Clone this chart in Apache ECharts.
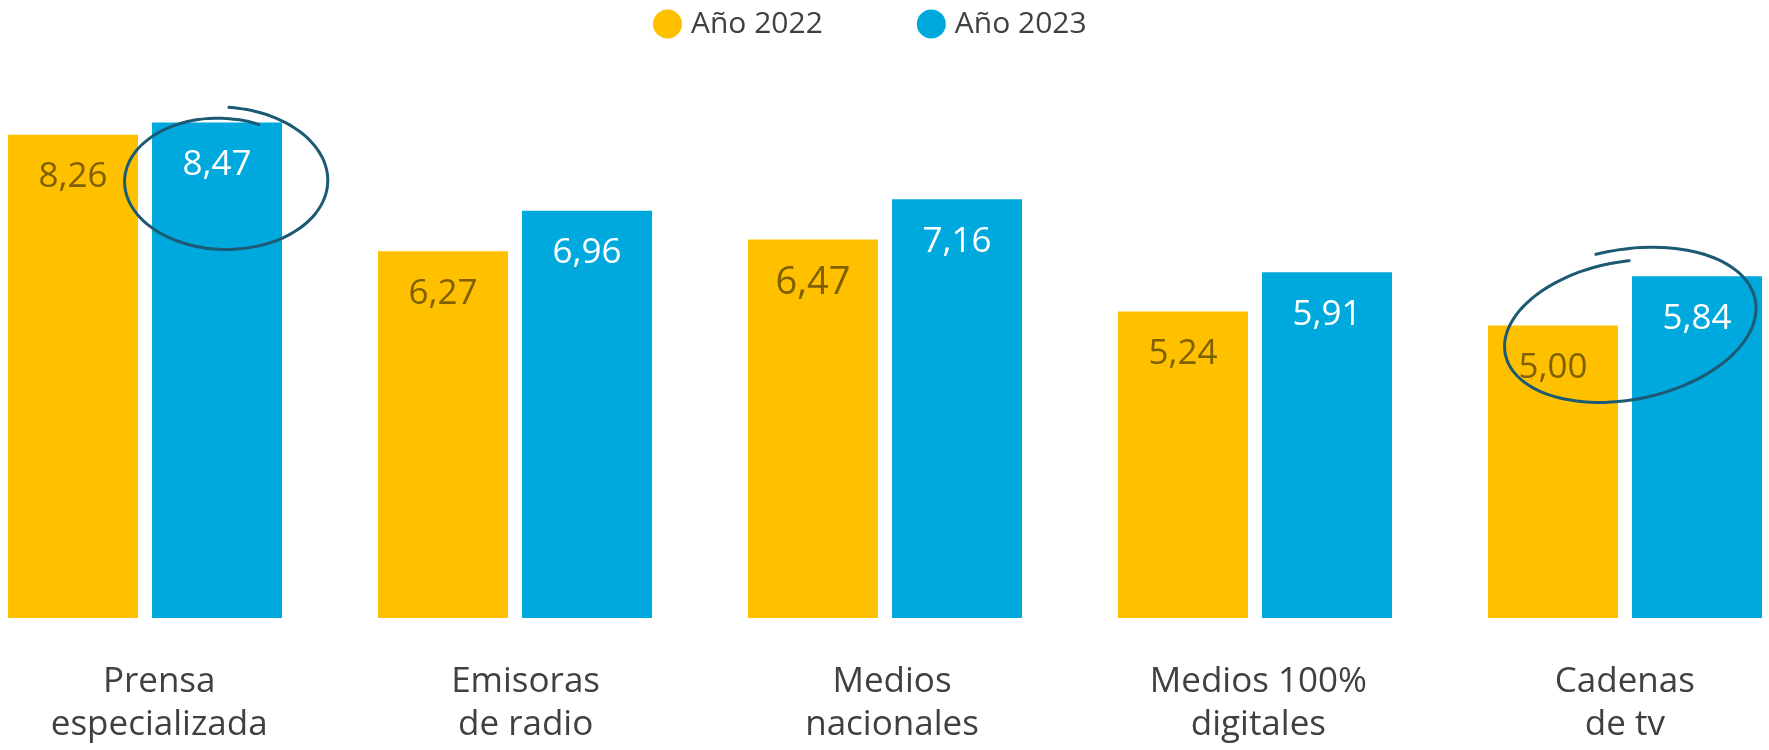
<!DOCTYPE html>
<html>
<head>
<meta charset="utf-8">
<script src="https://cdn.jsdelivr.net/npm/echarts@6/dist/echarts.min.js"></script>
<style>
    html, body { margin: 0; padding: 0; background: #fff; overflow: hidden; }
    /* the outer groups are cut by the page edge, so the chart is wider than the window */
    #chart { width: 1850px; height: 750px; margin-left: -40px; }
</style>
</head>
<body>
<div id="chart"></div>
<script>
    var categories = ['Prensa\nespecializada', 'Emisoras\nde radio', 'Medios\nnacionales', 'Medios 100%\ndigitales', 'Cadenas\nde tv'];
    var seriesNames = ['Año 2022', 'Año 2023'];
    var values2022 = [8.26, 6.27, 6.47, 5.24, 5.00];
    var values2023 = [8.47, 6.96, 7.16, 5.91, 5.84];

    var chartDom = document.getElementById('chart');
    var myChart = echarts.init(chartDom);
    var font = '"Open Sans", "Noto Sans", sans-serif';
    var shift = 40; // container offset

    function fmt(p) {
        return p.value.toFixed(2).replace('.', ',');
    }

    // hand drawn ring, a loop that does not quite close
    function scribble(cx, cy, rx, ry, rot, s0, s1, t0, t1) {
        var pts = [];
        var n = 80;
        for (var i = 0; i <= n; i++) {
            var k = i / n;
            var t = t0 + (t1 - t0) * k;
            var s = s0 + (s1 - s0) * k;
            var x = rx * s * Math.cos(t);
            var y = ry * s * Math.sin(t);
            pts.push([
                shift + cx + x * Math.cos(rot) - y * Math.sin(rot),
                cy + x * Math.sin(rot) + y * Math.cos(rot)
            ]);
        }
        return pts;
    }

    var ringStyle = { stroke: '#1c5a74', lineWidth: 3, fill: null, lineCap: 'round' };

    var option = {
        animation: false,
        textStyle: { fontFamily: font },
        legend: {
            data: seriesNames,
            left: 648 + shift,
            top: 4,
            icon: 'circle',
            itemWidth: 29,
            itemHeight: 29,
            itemGap: 94,
            textStyle: {
                fontSize: 30,
                color: '#404040',
                fontFamily: font,
                padding: [0, 0, 0, 4]
            }
        },
        grid: [
            { left: 0, right: 0, top: 33, bottom: 132 },
            // category labels sit on a slightly narrower band than the bars
            { left: 16, right: 2, top: 33, bottom: 132 }
        ],
        xAxis: [
            {
                type: 'category',
                data: categories,
                gridIndex: 0,
                axisLine: { show: false },
                axisTick: { show: false },
                axisLabel: { show: false }
            },
            {
                type: 'category',
                data: categories,
                gridIndex: 1,
                axisLine: { show: false },
                axisTick: { show: false },
                axisLabel: {
                    margin: 43,
                    fontSize: 35,
                    lineHeight: 43,
                    color: '#404040',
                    fontFamily: font,
                    interval: 0
                }
            }
        ],
        yAxis: [
            { type: 'value', min: 0, max: 10, show: false, gridIndex: 0 },
            { type: 'value', min: 0, max: 10, show: false, gridIndex: 1 }
        ],
        series: [
            {
                name: seriesNames[0],
                type: 'bar',
                data: values2022.map(function (v, i) {
                    // the 6,47 label is a touch larger in the source
                    if (i === 2) {
                        return { value: v, label: { fontSize: 38, distance: 25 } };
                    }
                    return v;
                }),
                barWidth: 130,
                barGap: '10.8%',
                itemStyle: { color: '#ffc000' },
                label: {
                    show: true,
                    position: 'insideTop',
                    distance: 25,
                    fontSize: 35,
                    color: '#7f6000',
                    fontFamily: font,
                    formatter: fmt
                }
            },
            {
                name: seriesNames[1],
                type: 'bar',
                data: values2023,
                barWidth: 130,
                barGap: '10.8%',
                itemStyle: { color: '#00a9dd' },
                label: {
                    show: true,
                    position: 'insideTop',
                    distance: 25,
                    fontSize: 35,
                    color: '#ffffff',
                    fontFamily: font,
                    formatter: fmt
                }
            }
        ],
        graphic: [
            {
                type: 'polyline',
                z: 100,
                shape: {
                    points: scribble(222, 181, 98, 66, 0.02, 1.12, 0.94, -Math.PI / 2 + 0.05, 3 * Math.PI / 2 + 0.4),
                    smooth: 0.3
                },
                style: ringStyle
            },
            {
                type: 'polyline',
                z: 100,
                shape: {
                    points: scribble(1625, 328, 124, 70, -0.2, 1.12, 0.94, -Math.PI / 2 - 0.1, 3 * Math.PI / 2 + 0.15),
                    smooth: 0.3
                },
                style: ringStyle
            }
        ]
    };

    option && myChart.setOption(option);
</script>
</body>
</html>
